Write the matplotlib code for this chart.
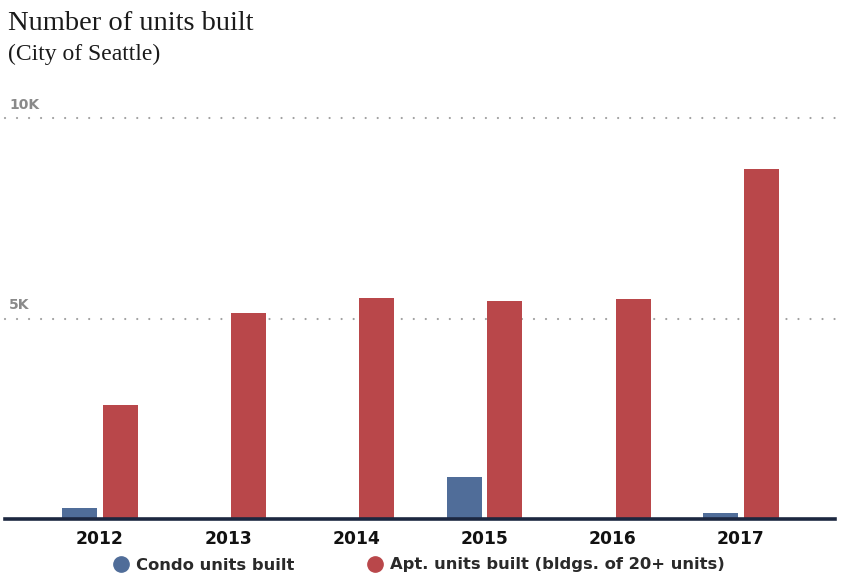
import matplotlib
matplotlib.use("Agg")
import matplotlib.pyplot as plt
from matplotlib.lines import Line2D
import numpy as np

years = ["2012", "2013", "2014", "2015", "2016", "2017"]
condo_units = [275, 0, 0, 1050, 0, 150]
apt_units = [2840, 5140, 5510, 5440, 5490, 8730]
ytick_values = [5000, 10000]
ytick_labels = ["5K", "10K"]
series_names = ["Condo units built", "Apt. units built (bldgs. of 20+ units)"]

BLUE = "#506d99"
RED = "#b9474a"
NAVY = "#1c2740"
GRID = "#a0a0a0"
TICK = "#8a8a8a"
SANS = "DejaVu Sans"

W, H = 849, 583
fig = plt.figure(figsize=(W / 100, H / 100), dpi=100)
ax = fig.add_axes([5 / W, 64 / H, 830 / W, (519 - 118) / H])

x = np.arange(len(years))
spacing = 128.2
bw = 35 / spacing
off = 20.25 / spacing
ax.bar(x - off, condo_units, width=bw, color=BLUE, zorder=3)
ax.bar(x + off, apt_units, width=bw, color=RED, zorder=3)

ax.set_xlim((5 - 100) / spacing, (835 - 100) / spacing)
ax.set_ylim(0, 10000)

for v, lab in zip(ytick_values, ytick_labels):
    ax.axhline(v, color=GRID, lw=1.6, linestyle=(0, (0.01, 5.4)),
               dash_capstyle="round", zorder=1, clip_on=False)
    ax.annotate(lab, xy=(0, v), xycoords=("axes fraction", "data"),
                xytext=(3, 4.5), textcoords="offset points",
                ha="left", va="bottom", fontsize=10, fontweight="bold",
                color=TICK, family=SANS)

ax.axhline(0, color=NAVY, lw=2.6, zorder=4, clip_on=False)

for s in ax.spines.values():
    s.set_visible(False)
ax.set_yticks([])
ax.set_xticks(x)
ax.set_xticklabels(years, fontsize=12.3, fontweight="bold", family=SANS, color="#111111")
ax.tick_params(axis="x", length=0, pad=8)

fig.text(8 / W, 1 - 30 / H, "Number of units built", family="Liberation Serif",
         fontsize=20.5, color="#1a1a1a", ha="left", va="baseline")
fig.text(8 / W, 1 - 60 / H, "(City of Seattle)", family="Liberation Serif",
         fontsize=17, color="#1a1a1a", ha="left", va="baseline")

handles = [Line2D([], [], marker="o", linestyle="", markersize=11, color=BLUE),
           Line2D([], [], marker="o", linestyle="", markersize=11, color=RED)]
fig.legend(handles, series_names, loc="center", bbox_to_anchor=(419 / W, 1 - 565 / H),
           ncol=2, frameon=False, handletextpad=0.45, columnspacing=4.5,
           prop={"family": SANS, "weight": "bold", "size": 11.8},
           labelcolor="#2a2a2a", handlelength=0.9)

fig.savefig("out.png", dpi=100)
